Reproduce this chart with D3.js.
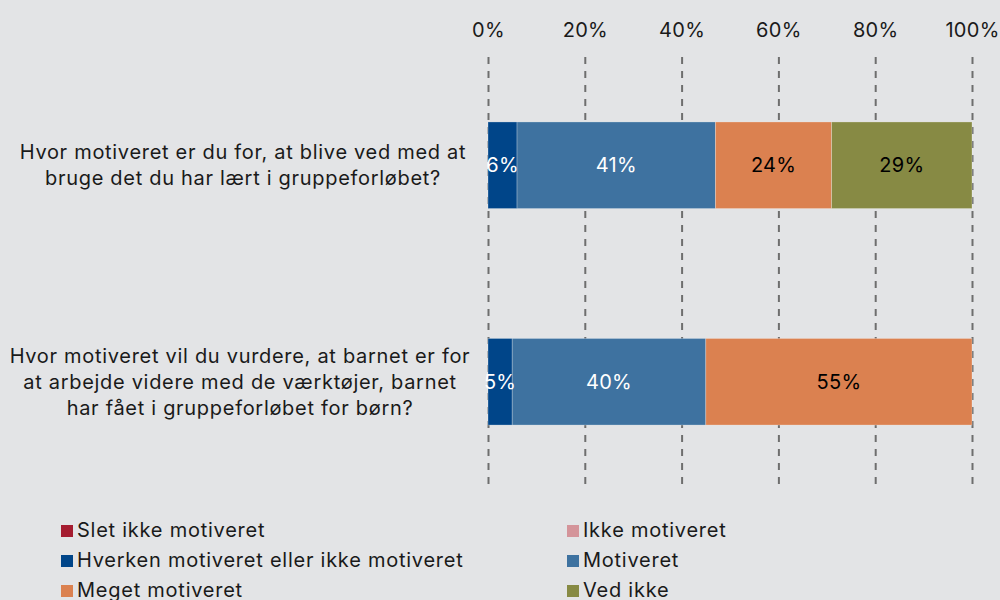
<!DOCTYPE html>
<html>
<head>
<meta charset="utf-8">
<script src="https://cdn.jsdelivr.net/npm/d3@7"></script>
<style>
  body { margin: 0; background: #e3e4e6; }
  svg { display: block; font-family: Inter, "Noto Sans", sans-serif; }
</style>
</head>
<body>
<svg id="chart"></svg>
<script>
// chart data
var questions = ['q1', 'q2'];
var questionLines = [
  ['Hvor motiveret er du for, at blive ved med at', 'bruge det du har lært i gruppeforløbet?'],
  ['Hvor motiveret vil du vurdere, at barnet er for', 'at arbejde videre med de værktøjer, barnet', 'har fået i gruppeforløbet for børn?']
];
var seriesNames = ['Slet ikke motiveret', 'Ikke motiveret', 'Hverken motiveret eller ikke motiveret', 'Motiveret', 'Meget motiveret', 'Ved ikke'];
var seriesColors = ['#a51c30', '#d4949a', '#004589', '#3e72a0', '#db8150', '#878a44'];
var labelColors = ['#fff', '#000', '#fff', '#fff', '#000', '#000'];
var q1Values = [0, 0, 6, 41, 24, 29];
var q2Values = [0, 0, 5, 40, 55, 0];
var tickValues = [0, 20, 40, 60, 80, 100];

var width = 1000;
var height = 600;

var svg = d3.select('#chart')
  .attr('width', width)
  .attr('height', height);

svg.append('rect')
  .attr('width', width)
  .attr('height', height)
  .attr('fill', '#e3e4e6');

// scales
var x = d3.scaleLinear().domain([0, 100]).range([488, 972]);
var y = d3.scaleBand().domain(questions).range([57, 490]).paddingInner(0.6).paddingOuter(0.3);

// tick labels on top
var topAxis = svg.append('g')
  .attr('transform', 'translate(0,40)')
  .call(d3.axisTop(x).tickValues(tickValues).tickSize(0).tickPadding(3).tickFormat(function(d) { return d + '%'; }));
topAxis.select('.domain').remove();
topAxis.selectAll('text')
  .attr('font-family', 'Inter, sans-serif')
  .attr('font-size', 20)
  .attr('letter-spacing', 0.3)
  .attr('fill', '#1a1a1a');

// dashed grid lines
var grid = svg.append('g')
  .attr('transform', 'translate(0,57)')
  .call(d3.axisBottom(x).tickValues(tickValues).tickSize(429).tickFormat(''));
grid.select('.domain').remove();
grid.selectAll('line')
  .attr('stroke', '#6e6e6e')
  .attr('stroke-width', 2)
  .attr('stroke-dasharray', '7,7');

// stack the values
var rows = [q1Values, q2Values].map(function(vals, i) {
  var x0 = 0;
  return vals.map(function(v, j) {
    var seg = {q: questions[i], series: j, start: x0, value: v};
    x0 += v;
    return seg;
  });
});
var segments = d3.merge(rows).filter(function(d) { return d.value > 0; });

var bars = svg.append('g');
bars.selectAll('rect')
  .data(segments)
  .enter()
  .append('rect')
    .attr('x', function(d) { return x(d.start); })
    .attr('y', function(d) { return y(d.q); })
    .attr('width', function(d) { return x(d.start + d.value) - x(d.start); })
    .attr('height', y.bandwidth())
    .attr('fill', function(d) { return seriesColors[d.series]; })
    .attr('stroke', 'rgba(255,255,255,0.35)')
    .attr('stroke-width', 0.75);

bars.selectAll('text')
  .data(segments)
  .enter()
  .append('text')
    .attr('x', function(d) { return x(d.start + d.value / 2); })
    .attr('y', function(d) { return y(d.q) + y.bandwidth() / 2 + 7; })
    .attr('text-anchor', 'middle')
    .attr('font-size', 20)
    .attr('letter-spacing', 0.3)
    .attr('fill', function(d) { return labelColors[d.series]; })
    .text(function(d) { return d.value + '%'; });

// category labels
var labels = svg.append('g');
questions.forEach(function(q, i) {
  var lines = questionLines[i];
  var cy = y(q) + y.bandwidth() / 2;
  labels.selectAll('text.l' + i)
    .data(lines)
    .enter()
    .append('text')
      .attr('class', 'l' + i)
      .attr('x', i === 0 ? 243 : 240)
      .attr('y', function(d, k) { return cy + (k - (lines.length - 1) / 2) * 26 + 7; })
      .attr('text-anchor', 'middle')
      .attr('font-size', 20)
      .attr('letter-spacing', 0.7)
      .attr('fill', '#1a1a1a')
      .text(function(d) { return d; });
});

// legend
var legend = svg.append('g');
var item = legend.selectAll('g')
  .data(seriesNames)
  .enter()
  .append('g')
    .attr('transform', function(d, i) {
      return 'translate(' + (i % 2 === 0 ? 61 : 567) + ',' + (537 + Math.floor(i / 2) * 30) + ')';
    });
item.append('rect')
  .attr('y', -12)
  .attr('width', 12)
  .attr('height', 12)
  .attr('fill', function(d, i) { return seriesColors[i]; });
item.append('text')
  .attr('x', 16)
  .attr('font-size', 20)
  .attr('letter-spacing', 0.75)
  .attr('fill', '#1a1a1a')
  .text(function(d) { return d; });
</script>
</body>
</html>
